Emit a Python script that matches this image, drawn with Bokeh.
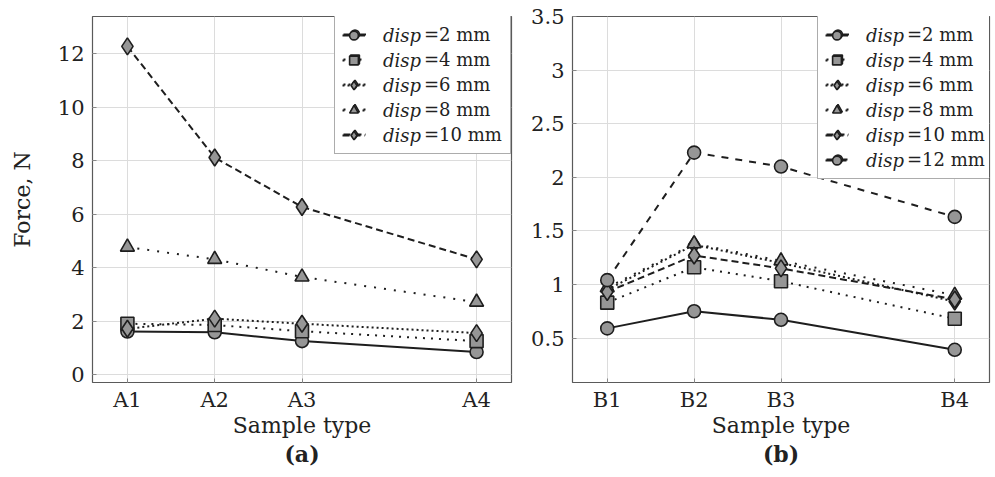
from bokeh.plotting import figure
from bokeh.models import (Range1d, FixedTicker, Legend, LegendItem, Title,
                          CustomJSTickFormatter)
from bokeh.layouts import row
from bokeh.embed import file_html
from bokeh.resources import INLINE

# ---------------- data ----------------
a_types = ["A1", "A2", "A3", "A4"]
a_pos = [1, 2, 3, 5]
a_disp2 = [1.61, 1.58, 1.25, 0.84]
a_disp4 = [1.90, 1.85, 1.62, 1.25]
a_disp6 = [1.71, 2.09, 1.90, 1.55]
a_disp8 = [4.77, 4.31, 3.65, 2.71]
a_disp10 = [12.28, 8.12, 6.27, 4.31]

b_types = ["B1", "B2", "B3", "B4"]
b_pos = [1, 2, 3, 5]
b_disp2 = [0.59, 0.75, 0.67, 0.39]
b_disp4 = [0.83, 1.16, 1.03, 0.68]
b_disp6 = [0.95, 1.37, 1.20, 0.84]
b_disp8 = [0.97, 1.38, 1.22, 0.90]
b_disp10 = [0.93, 1.27, 1.15, 0.86]
b_disp12 = [1.04, 2.23, 2.10, 1.63]

a_yticks = [0, 2, 4, 6, 8, 10, 12]
b_yticks = [0.5, 1, 1.5, 2, 2.5, 3, 3.5]

disp_word = "disp"
disp_values = ["=2 mm", "=4 mm", "=6 mm", "=8 mm", "=10 mm", "=12 mm"]

# ---------------- styles ----------------
FONT = "DejaVu Serif"
TXT = "#222222"
LINE = "#1e1e1e"
FILL = "#969696"
styles = [
    dict(marker="circle", dash="solid", size=13),
    dict(marker="square", dash="2 6", size=13),
    dict(marker="diamond", dash="2 3", size=17),
    dict(marker="triangle", dash="2 8", size=14),
    dict(marker="diamond", dash="7 4", size=17),
    dict(marker="circle", dash="7 7", size=13),
]

FRAME_H = 366
PAD, GW, GH, SP = 8, 23, 22, 3
LEG_FS = "18px"


def make_fig(width, bl, br, yr, types, pos, yticks, tag, ylabel=None):
    p = figure(width=width, height=477, x_range=Range1d(0.6, 5.4), y_range=Range1d(*yr),
               output_backend="svg", toolbar_location=None,
               min_border_top=16, min_border_bottom=95, min_border_left=bl, min_border_right=br)
    p.outline_line_color = "#5a5a5a"
    p.outline_line_width = 1.2
    p.background_fill_color = "white"
    p.border_fill_color = "white"
    p.grid.grid_line_color = "#dcdcdc"
    p.grid.grid_line_width = 1

    p.xaxis.ticker = FixedTicker(ticks=pos)
    p.xaxis.major_label_overrides = {k: v for k, v in zip(pos, types)}
    p.yaxis.ticker = FixedTicker(ticks=yticks)
    p.yaxis.formatter = CustomJSTickFormatter(code="return String(Math.round(tick*10)/10);")
    for ax in (p.xaxis[0], p.yaxis[0]):
        ax.axis_line_color = None
        ax.major_tick_in = 4
        ax.major_tick_out = 0
        ax.major_tick_line_color = "#888888"
        ax.minor_tick_line_color = None
        ax.major_label_text_font = FONT
        ax.major_label_text_font_size = "21px"
        ax.major_label_text_color = TXT
        ax.axis_label_text_font = FONT
        ax.axis_label_text_font_size = "22px"
        ax.axis_label_text_font_style = "normal"
        ax.axis_label_text_color = TXT
    p.xaxis.major_label_standoff = 5
    p.xaxis.axis_label = "Sample type"
    p.xaxis.axis_label_standoff = -2
    p.yaxis.major_label_standoff = 8
    if ylabel:
        p.yaxis.axis_label = ylabel
        p.yaxis.axis_label_standoff = 20

    t = Title(text=tag, align="center", text_font=FONT, text_font_size="22px",
              text_font_style="bold", text_color=TXT, standoff=-4)
    p.add_layout(t, "below")
    return p


def add_series(p, pos, series, leg_x):
    items_val, items_word = [], []
    n = len(series)
    for i, ys in enumerate(series):
        st = styles[i]
        ln = p.line(pos, ys, line_color=LINE, line_width=2, line_dash=st["dash"])
        sc = p.scatter(pos, ys, marker=st["marker"], size=st["size"], fill_color=FILL,
                       line_color=LINE, line_width=1.6)
        items_val.append(LegendItem(label=disp_values[i], renderers=[ln, sc]))
        items_word.append(LegendItem(label=disp_word, renderers=[ln, sc]))
    leg_h = 2 * PAD + n * GH + (n - 1) * SP
    common = dict(location=(leg_x, FRAME_H - leg_h), margin=0, padding=PAD, spacing=SP,
                  glyph_width=GW, glyph_height=GH, label_height=GH,
                  label_text_font=FONT, label_text_font_size=LEG_FS, label_text_color=TXT,
                  border_line_color="#5a5a5a", border_line_width=1.2)
    # box + upright "=N mm" part
    lg_val = Legend(items=items_val, label_standoff=58,
                    background_fill_color="white", background_fill_alpha=1.0, **common)
    # glyphs + italic "disp" part (transparent box, same geometry)
    lg_word = Legend(items=items_word, label_standoff=18, label_text_font_style="italic",
                     border_line_alpha=0.0, background_fill_alpha=0.0, **common)
    p.add_layout(lg_val)
    p.add_layout(lg_word)


pa = make_fig(528, 92, 17, (-0.3, 13.4), a_types, a_pos, a_yticks, "(a)", ylabel="Force, N")
add_series(pa, a_pos, [a_disp2, a_disp4, a_disp6, a_disp8, a_disp10], 242)

pb = make_fig(467, 42, 6, (0.085, 3.5), b_types, b_pos, b_yticks, "(b)")
add_series(pb, b_pos, [b_disp2, b_disp4, b_disp6, b_disp8, b_disp10, b_disp12], 245)

layout = row(pa, pb)
open("out.html", "w").write(file_html(layout, INLINE))
